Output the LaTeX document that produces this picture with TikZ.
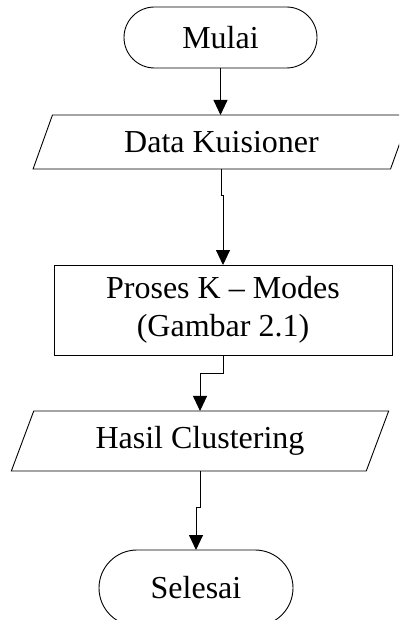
\documentclass[tikz,border=0pt]{standalone}
\usepackage{fontspec}
\setmainfont{Liberation Serif}
\usetikzlibrary{shapes.geometric,shapes.misc,arrows.meta}
\begin{document}
\begin{tikzpicture}[x=1pt,y=-1pt,
  base/.style={draw=black,line width=0.9pt,inner sep=0pt,outer sep=0pt,
    font=\fontsize{32}{38}\selectfont,align=center},
  term/.style={base,rounded rectangle},
  io/.style={base,trapezium,trapezium stretches=true},
  proc/.style={base,rectangle},
  arr/.style={line width=0.9pt,-{Triangle[length=15pt,width=14pt]}}]
\useasboundingbox (0,0) rectangle (399,620);
\clip (0,0) rectangle (399,620);
\node[term,minimum width=193pt,minimum height=61pt] (mulai) at (220.5,37.5) {Mulai};
\node[io,trapezium left angle=62.6,trapezium right angle=117.4,
  minimum width=377pt,minimum height=54pt] (data) at (221.5,142) {Data Kuisioner};
\node[proc,minimum width=338pt,minimum height=90pt] (box) at (223,310) {Proses K – Modes\\(Gambar 2.1)};
\node[io,trapezium left angle=64.2,trapezium right angle=115.8,
  minimum width=378pt,minimum height=60pt] (hasil) at (200,441) {Hasil Clustering};
\node[term,minimum width=194pt,minimum height=76pt] (selesai) at (196,588) {Selesai};
\draw[arr] (mulai.south) -- (mulai.south |- data.north);
\draw[arr] (data.south) -- ++(0,26) -| (box.north);
\draw[arr] (box.south) -- ++(0,18) -| (hasil.north);
\draw[arr] (hasil.south) -- ++(0,36) -| (selesai.north);
\end{tikzpicture}
\end{document}
